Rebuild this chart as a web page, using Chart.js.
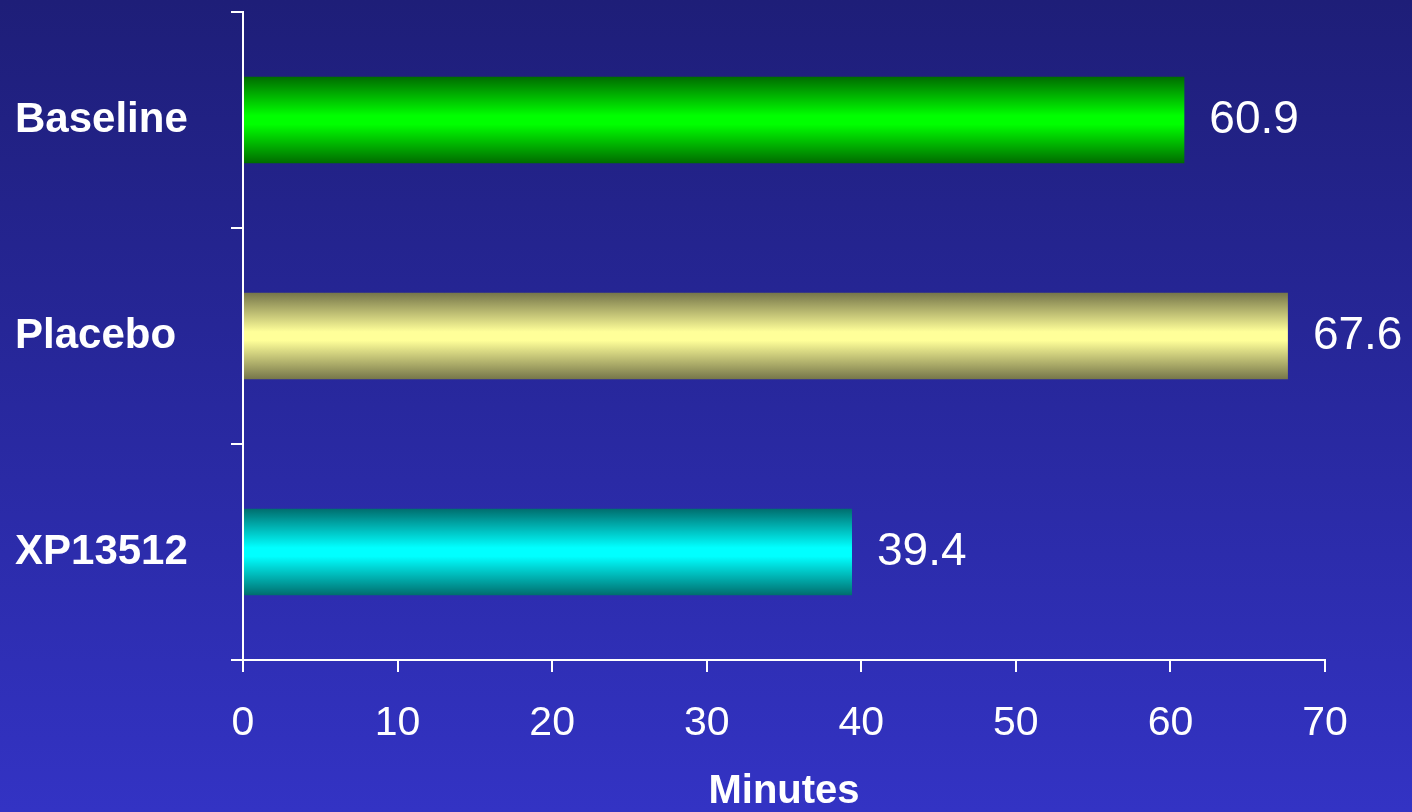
<!DOCTYPE html>
<html>
<head>
<meta charset="utf-8">
<title>Minutes</title>
<script src="https://cdn.jsdelivr.net/npm/chart.js@4/dist/chart.umd.min.js"></script>
<style>
  html, body { margin: 0; padding: 0; }
  body {
    width: 1412px;
    height: 812px;
    background: linear-gradient(to bottom, #1e1e78 0%, #28289e 50%, #3333c4 100%);
    font-family: "Liberation Sans", Arial, sans-serif;
  }
  #wrap { position: relative; width: 1412px; height: 812px; }
</style>
</head>
<body>
<div id="wrap"><canvas id="chart"></canvas></div>
<script>
const categories = ['Baseline', 'Placebo', 'XP13512'];
const minutes = [60.9, 67.6, 39.4];
const xTicks = [0, 10, 20, 30, 40, 50, 60, 70];

// bar shading: dark edge colour and bright middle colour for each bar
const barEdge = ['#006c00', '#76764a', '#006e6e'];
const barMid = ['#00ff00', '#ffff99', '#00ffff'];

const FONT = '"Liberation Sans", Arial, sans-serif';

// vertical gradient across each bar's thickness
function barFill(ctx) {
    const chart = ctx.chart;
    const i = ctx.dataIndex;
    if (!chart.chartArea || !chart.scales.y) return barMid[i];
    const yScale = chart.scales.y;
    const band = (chart.chartArea.bottom - chart.chartArea.top) / categories.length;
    const half = band * 0.4 / 2;
    const y = yScale.getPixelForValue(i);
    const g = chart.ctx.createLinearGradient(0, y - half, 0, y + half);
    g.addColorStop(0, barEdge[i]);
    g.addColorStop(0.45, barMid[i]);
    g.addColorStop(0.55, barMid[i]);
    g.addColorStop(1, barEdge[i]);
    return g;
}

// value text to the right of each bar
const valueLabels = {
    id: 'valueLabels',
    afterDatasetsDraw(chart) {
        const c = chart.ctx;
        const meta = chart.getDatasetMeta(0);
        c.save();
        c.fillStyle = '#ffffff';
        c.font = '46px ' + FONT;
        c.textAlign = 'left';
        c.textBaseline = 'middle';
        meta.data.forEach((bar, i) => {
            c.fillText(minutes[i].toFixed(1), bar.x + 25, bar.y);
        });
        c.restore();
    }
};

const chart = document.querySelector('#chart').getContext('2d');

new Chart(chart, {
    type: 'bar',
    data: {
        labels: categories,
        datasets: [
            {
                data: minutes,
                backgroundColor: barFill,
                borderWidth: 0,
                categoryPercentage: 0.8,
                barPercentage: 0.5
            }
        ]
    },
    options: {
        indexAxis: 'y',
        responsive: true,
        maintainAspectRatio: false,
        animation: false,
        layout: {
            padding: { top: 12, right: 87, left: 15, bottom: 0 }
        },
        plugins: {
            legend: { display: false },
            tooltip: { enabled: false }
        },
        scales: {
            x: {
                min: xTicks[0],
                max: xTicks[xTicks.length - 1],
                afterFit: (scale) => {
                    scale.height = 152;
                    scale.paddingLeft = 0;
                    scale.paddingRight = 0;
                },
                afterBuildTicks: (scale) => {
                    scale.ticks = xTicks.map(v => ({ value: v }));
                },
                grid: {
                    drawOnChartArea: false,
                    drawTicks: true,
                    tickLength: 12,
                    color: '#ffffff',
                    lineWidth: 2
                },
                border: { display: true, color: '#ffffff', width: 2 },
                ticks: {
                    color: '#ffffff',
                    padding: 27,
                    font: { family: FONT, size: 41 }
                },
                title: {
                    display: true,
                    text: 'Minutes',
                    color: '#ffffff',
                    padding: { top: 0, bottom: -4 },
                    font: { family: FONT, size: 40, weight: 'bold' }
                }
            },
            y: {
                afterFit: (scale) => {
                    scale.width = 228;
                    scale.paddingTop = 0;
                    scale.paddingBottom = 0;
                },
                grid: {
                    offset: true,
                    drawOnChartArea: false,
                    drawTicks: true,
                    tickLength: 12,
                    color: '#ffffff',
                    lineWidth: 2
                },
                border: { display: true, color: '#ffffff', width: 2 },
                ticks: {
                    color: '#ffffff',
                    crossAlign: 'far',
                    font: { family: FONT, size: 42, weight: 'bold' }
                }
            }
        }
    },
    plugins: [valueLabels]
});
</script>
</body>
</html>
